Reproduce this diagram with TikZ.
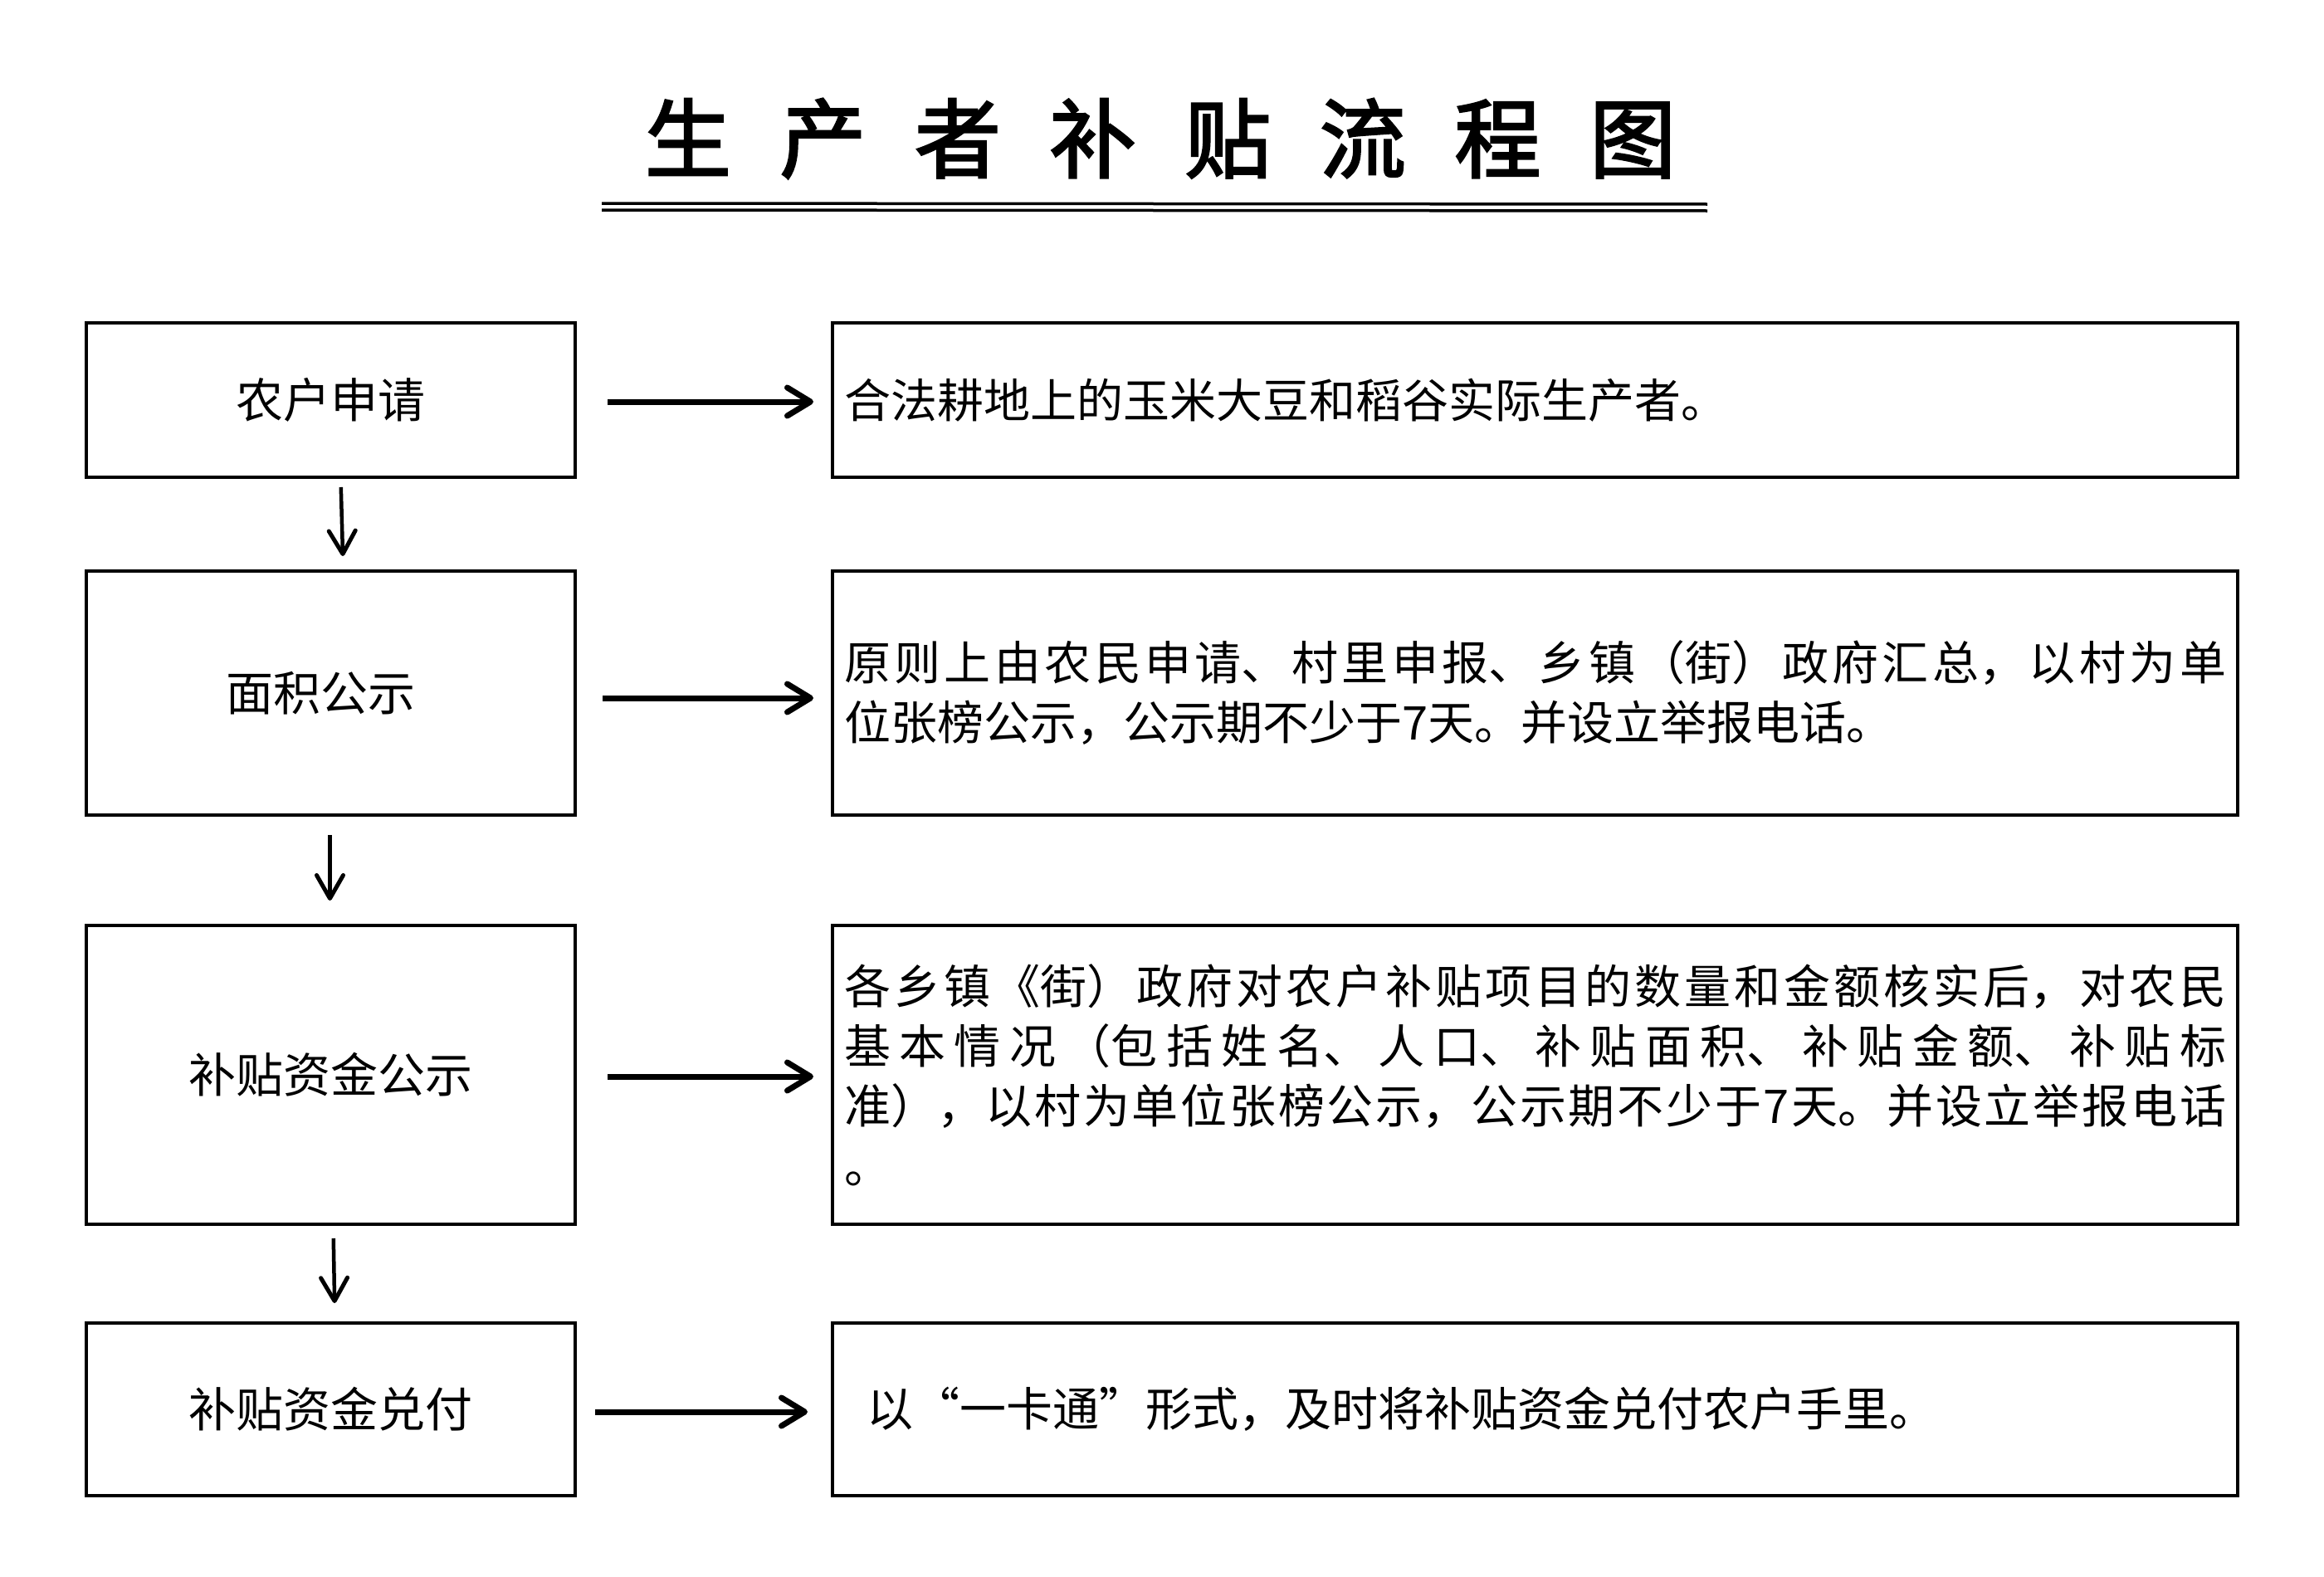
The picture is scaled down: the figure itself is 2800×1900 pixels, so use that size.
\documentclass[tikz,border=0pt]{standalone}
\usepackage{fontspec}
\setmainfont{Noto Sans CJK SC}
\newfontfamily\titlefont{Noto Sans CJK SC}[BoldFont=*, FakeBold=2.5]
\usetikzlibrary{arrows.meta}
\XeTeXlinebreaklocale "zh"
\XeTeXlinebreakskip=0pt plus 40pt
\newcommand\tsp{\hspace{58.6pt}}
\tikzset{
  lbox/.style={draw, line width=4pt, minimum width=589pt, inner sep=0pt,
    font=\fontsize{57}{70}\selectfont},
  rbox/.style={draw, line width=4pt, minimum width=1693pt, text width=1665pt,
    inner xsep=14pt, inner ysep=0pt, align=justify,
    font=\fontsize{56}{72}\selectfont},
  harrow/.style={line width=7pt, -{Straight Barb[length=28pt,width=34pt,line width=7pt,round]}},
  varrow/.style={line width=4.5pt, -{Straight Barb[length=28pt,width=32pt,line width=5pt,round]}},
}
\begin{document}
\begin{tikzpicture}[x=1pt,y=-1pt]
\useasboundingbox (0,0) rectangle (2800,1900);
\fill[white] (0,0) rectangle (2800,1900);
% title
\node[font=\titlefont\fontsize{104}{110}\selectfont, inner sep=0pt] (title) at (1398,167)
  {生\tsp 产\tsp 者\tsp 补\tsp 贴\tsp 流\tsp 程\tsp 图};
\draw[line width=3.5pt] (725,245) -- (2057,246);
\draw[line width=3.5pt] (725,253) -- (2057,254);
% left boxes
\node[lbox, minimum height=186pt] (l1) at (398.5,482) {农户申请};
\node[lbox, minimum height=294pt] (l2) at (398.5,835) {\hspace*{-24pt}面积公示};
\node[lbox, minimum height=360pt] (l3) at (398.5,1295) {补贴资金公示};
\node[lbox, minimum height=208pt] (l4) at (398.5,1698) {补贴资金兑付};
% right boxes
\node[rbox, minimum height=186pt] (r1) at (1849.5,482) {合法耕地上的玉米大豆和稻谷实际生产者。};
\node[rbox, minimum height=294pt] (r2) at (1849.5,835) {原则上由农民申请、村里申报、乡镇（街）政府汇总，以村为单\linebreak 位张榜公示，公示期不少于7天。并设立举报电话。};
\node[rbox, minimum height=360pt] (r3) at (1849.5,1295) {各乡镇《街）政府对农户补贴项目的数量和金额核实后，对农民\linebreak 基本情况（包括姓名、人口、补贴面积、补贴金额、补贴标\linebreak 准），以村为单位张榜公示，公示期不少于7天。并设立举报电话\linebreak 。};
\node[rbox, minimum height=208pt] (r4) at (1849.5,1698) {\hspace*{27pt}以“一卡通”形式，及时将补贴资金兑付农户手里。};
% horizontal arrows
\draw[harrow, shorten <=37pt, shorten >=21pt] ([yshift=-2pt]l1.east) -- ([yshift=-2pt]r1.west);
\draw[harrow, shorten <=31pt, shorten >=21pt] ([yshift=-6pt]l2.east) -- ([yshift=-6pt]r2.west);
\draw[harrow, shorten <=37pt, shorten >=21pt] ([yshift=-2pt]l3.east) -- ([yshift=-2pt]r3.west);
\draw[harrow, shorten <=22pt, shorten >=28pt] ([yshift=-3pt]l4.east) -- ([yshift=-3pt]r4.west);
% vertical arrows
\draw[varrow, shorten <=10pt, shorten >=16pt] ([xshift=12pt]l1.south) -- ([xshift=15pt]l2.north);
\draw[varrow, shorten <=22pt, shorten >=28pt] ([xshift=-1pt]l2.south) -- ([xshift=-1pt]l3.north);
\draw[varrow, shorten <=15pt, shorten >=22pt] ([xshift=3pt]l3.south) -- ([xshift=5pt]l4.north);
\end{tikzpicture}
\end{document}
